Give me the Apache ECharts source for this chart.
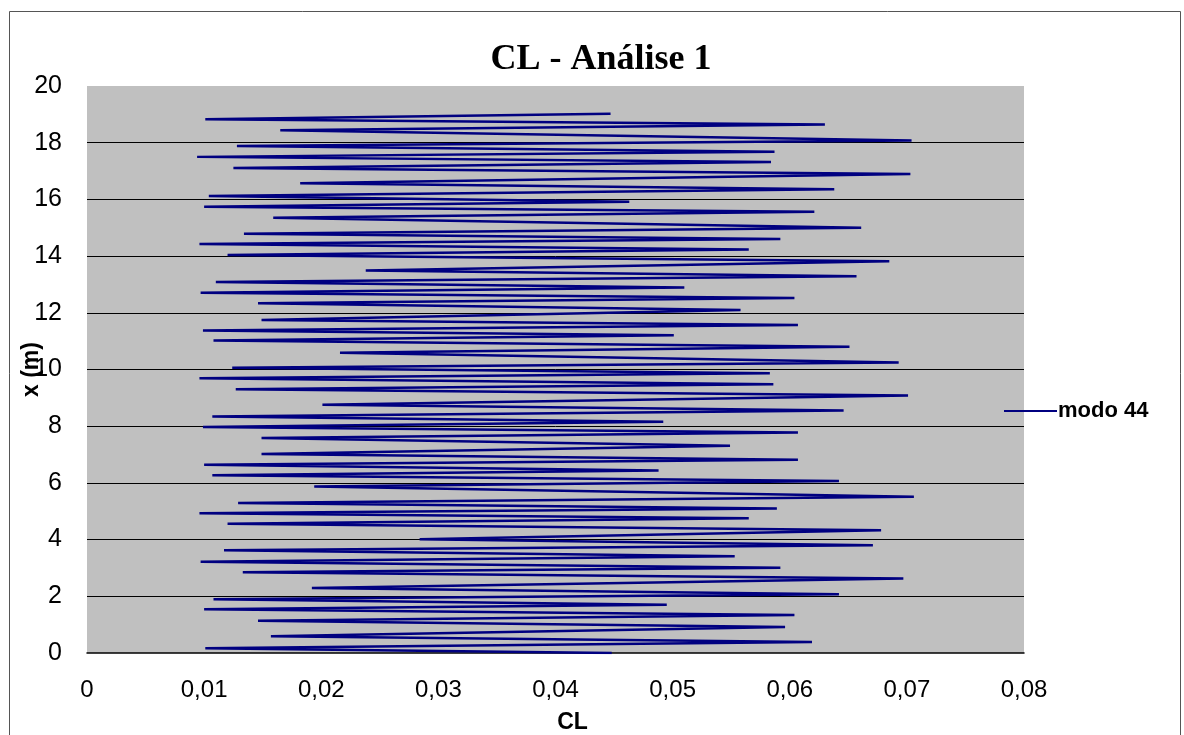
<!DOCTYPE html>
<html>
<head>
<meta charset="utf-8">
<title>CL - Análise 1</title>
<script src="https://cdn.jsdelivr.net/npm/echarts@6/dist/echarts.min.js"></script>
<style>
  html, body { margin: 0; padding: 0; background: #ffffff; }
  #chart { width: 1184px; height: 735px; }
</style>
</head>
<body>
<div id="chart"></div>
<script>
// Lift coefficient along the span: turning points of the modo 44 trace, bottom to top
const clValues = [
  0.0448, 0.0101, 0.0619, 0.0157, 0.0596, 0.0146, 0.0604, 0.0100, 0.0495, 0.0108,
  0.0642, 0.0192, 0.0697, 0.0133, 0.0592, 0.0097, 0.0553, 0.0117, 0.0671, 0.0284,
  0.0678, 0.0120, 0.0565, 0.0096, 0.0589, 0.0129, 0.0706, 0.0194, 0.0642, 0.0107,
  0.0488, 0.0100, 0.0607, 0.0149, 0.0549, 0.0149, 0.0607, 0.0099, 0.0492, 0.0107,
  0.0646, 0.0201, 0.0701, 0.0127, 0.0586, 0.0096, 0.0583, 0.0124, 0.0693, 0.0216,
  0.0651, 0.0108, 0.0501, 0.0099, 0.0607, 0.0149, 0.0558, 0.0146, 0.0604, 0.0097,
  0.0510, 0.0110, 0.0657, 0.0238, 0.0685, 0.0120, 0.0565, 0.0096, 0.0592, 0.0134,
  0.0661, 0.0159, 0.0621, 0.0100, 0.0463, 0.0104, 0.0638, 0.0182, 0.0703, 0.0125,
  0.0584, 0.0094, 0.0587, 0.0128, 0.0704, 0.0165, 0.0630, 0.0101, 0.0447
];
const xPositions = [
  0.00, 0.17, 0.39, 0.59, 0.92, 1.14, 1.34, 1.54, 1.70, 1.90,
  2.07, 2.29, 2.63, 2.85, 3.01, 3.22, 3.41, 3.62, 3.80, 4.01,
  4.33, 4.56, 4.75, 4.93, 5.10, 5.29, 5.51, 5.87, 6.07, 6.27,
  6.44, 6.64, 6.82, 7.02, 7.31, 7.58, 7.78, 7.97, 8.16, 8.34,
  8.55, 8.76, 9.08, 9.30, 9.48, 9.69, 9.87, 10.06, 10.25, 10.59,
  10.80, 11.02, 11.21, 11.38, 11.57, 11.75, 12.10, 12.34, 12.52, 12.71,
  12.89, 13.09, 13.29, 13.49, 13.82, 14.04, 14.23, 14.43, 14.60, 14.79,
  15.00, 15.35, 15.56, 15.74, 15.92, 16.12, 16.36, 16.57, 16.90, 17.11,
  17.32, 17.50, 17.68, 17.88, 18.08, 18.44, 18.64, 18.83, 19.02
];
const clTicks = ['0', '0,01', '0,02', '0,03', '0,04', '0,05', '0,06', '0,07', '0,08'];
const seriesName = 'modo 44';

const points = clValues.map((v, i) => [v, xPositions[i]]);

const chart = echarts.init(document.getElementById('chart'), null, { renderer: 'canvas' });

chart.setOption({
  backgroundColor: '#ffffff',
  animation: false,
  title: {
    text: 'CL - Análise 1',
    left: 596,
    top: 37,
    textAlign: 'center',
    textStyle: {
      fontFamily: 'Liberation Serif',
      fontWeight: 'bold',
      fontSize: 36,
      color: '#000000'
    }
  },
  legend: {
    data: [seriesName],
    left: 999,
    top: 395,
    icon: 'rect',
    itemWidth: 53,
    itemHeight: 2,
    itemGap: 0,
    textStyle: {
      fontFamily: 'Liberation Sans',
      fontWeight: 'bold',
      fontSize: 22,
      color: '#000000',
      padding: [0, 0, 0, -4]
    }
  },
  grid: {
    left: 87,
    right: 160,
    top: 86,
    bottom: 82,
    outerBoundsMode: 'none',
    containLabel: false,
    show: true,
    backgroundColor: '#c0c0c0',
    borderWidth: 0
  },
  xAxis: {
    type: 'value',
    min: 0,
    max: 0.08,
    interval: 0.01,
    name: 'CL',
    nameLocation: 'middle',
    nameGap: 58,
    nameMoveOverlap: false,
    nameTextStyle: {
      fontFamily: 'Liberation Sans',
      fontWeight: 'bold',
      fontSize: 23,
      color: '#000000',
      padding: [0, 0, 0, 34]
    },
    axisLine: { show: true, lineStyle: { color: '#000000', width: 1.5 } },
    axisTick: { show: false },
    splitLine: { show: false },
    axisLabel: {
      margin: 25,
      fontFamily: 'Liberation Sans',
      fontSize: 24,
      color: '#000000',
      formatter: (v) => clTicks[Math.round(v * 100)]
    }
  },
  yAxis: {
    type: 'value',
    min: 0,
    max: 20,
    interval: 2,
    name: 'x (m)',
    nameLocation: 'middle',
    nameGap: 44,
    nameMoveOverlap: false,
    nameRotate: 90,
    nameTextStyle: {
      fontFamily: 'Liberation Sans',
      fontWeight: 'bold',
      fontSize: 23,
      color: '#000000'
    },
    axisLine: { show: false },
    axisTick: { show: false },
    splitLine: {
      show: true,
      showMinLine: false,
      showMaxLine: false,
      lineStyle: { color: '#000000', width: 1 }
    },
    axisLabel: {
      margin: 25,
      fontFamily: 'Liberation Sans',
      fontSize: 25,
      color: '#000000'
    }
  },
  graphic: [
    {
      type: 'rect',
      shape: { x: 9.5, y: 11.5, width: 1171, height: 760 },
      style: { fill: 'none', stroke: '#555555', lineWidth: 1 },
      silent: true
    }
  ],
  series: [
    {
      name: seriesName,
      type: 'line',
      data: points,
      showSymbol: false,
      symbol: 'none',
      smooth: false,
      lineStyle: { color: '#000080', width: 2.5 },
      itemStyle: { color: '#000080' }
    }
  ]
});
</script>
</body>
</html>
